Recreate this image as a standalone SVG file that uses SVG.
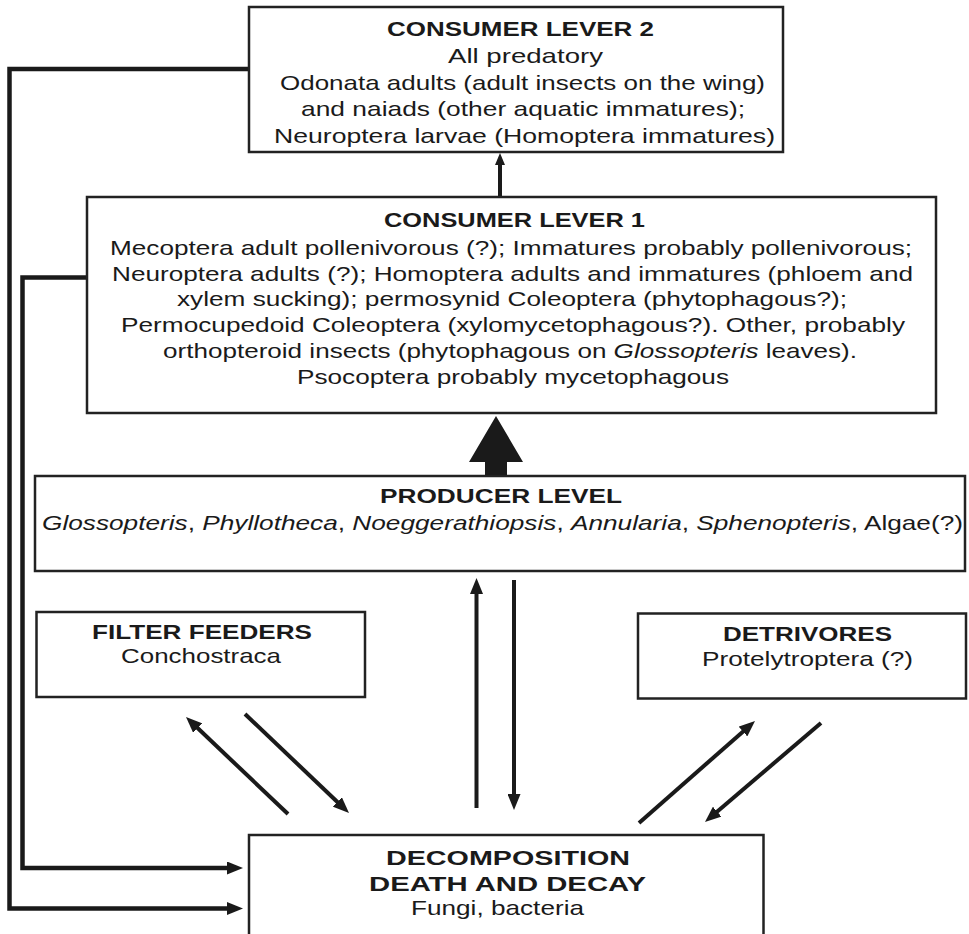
<svg xmlns="http://www.w3.org/2000/svg" width="969" height="934" viewBox="0 0 969 934">
<style>
.box{fill:#fff;stroke:#222;stroke-width:2.5}
text{font-family:"Liberation Sans",Arial,sans-serif;fill:#1a1a1a;font-size:21px}
.b{font-weight:bold;font-size:20.5px}
.i{font-style:italic}
.c{fill:none;stroke:#1a1a1a;stroke-width:4.5}
.a{fill:none;stroke:#1a1a1a;stroke-width:4}
</style>
<defs>
<marker id="ah" markerUnits="userSpaceOnUse" markerWidth="16" markerHeight="13" refX="4" refY="6.5" orient="auto">
<path d="M0,0 L16,6.5 L0,13 Z" fill="#1a1a1a"/>
</marker>
<marker id="ahs" markerUnits="userSpaceOnUse" markerWidth="12" markerHeight="10" refX="3" refY="5" orient="auto">
<path d="M0,0 L12,5 L0,10 Z" fill="#1a1a1a"/>
</marker>
</defs>
<g id="connectors">
<path class="c" d="M249,69 H9.5 V908.5 H231" marker-end="url(#ah)"/>
<path class="c" d="M88,277.5 H22.5 V868 H231" marker-end="url(#ah)"/>
<line class="a" x1="500" y1="197" x2="500" y2="162" marker-end="url(#ahs)"/>
<polygon points="496,416 523,462 507,462 507,476 485,476 485,462 469,462" fill="#1a1a1a"/>
<line class="a" x1="476.5" y1="808" x2="476.5" y2="590" marker-end="url(#ah)"/>
<line class="a" x1="514" y1="580" x2="514" y2="798" marker-end="url(#ah)"/>
<line class="a" x1="288" y1="814" x2="194.7" y2="725.3" marker-end="url(#ah)"/>
<line class="a" x1="245" y1="714" x2="340.3" y2="804.7" marker-end="url(#ah)"/>
<line class="a" x1="639" y1="823" x2="746" y2="728.9" marker-end="url(#ah)"/>
<line class="a" x1="821" y1="723" x2="714.1" y2="814.2" marker-end="url(#ah)"/>
</g>
<g id="consumer2">
<rect class="box" x="249" y="7" width="534" height="145"/>
<text class="b" x="387" y="36" textLength="267" lengthAdjust="spacingAndGlyphs">CONSUMER LEVER 2</text>
<text x="448" y="63" textLength="155" lengthAdjust="spacingAndGlyphs">All predatory</text>
<text x="280" y="89.5" textLength="485" lengthAdjust="spacingAndGlyphs">Odonata adults (adult insects on the wing)</text>
<text x="301" y="116" textLength="444" lengthAdjust="spacingAndGlyphs">and naiads (other aquatic immatures);</text>
<text x="274" y="142.5" textLength="501" lengthAdjust="spacingAndGlyphs">Neuroptera larvae (Homoptera immatures)</text>
</g>
<g id="consumer1">
<rect class="box" x="87" y="197" width="849" height="216"/>
<text class="b" x="384" y="227" textLength="261" lengthAdjust="spacingAndGlyphs">CONSUMER LEVER 1</text>
<text x="110" y="255" textLength="802" lengthAdjust="spacingAndGlyphs">Mecoptera adult pollenivorous (?); Immatures probably pollenivorous;</text>
<text x="112" y="280.7" textLength="801" lengthAdjust="spacingAndGlyphs">Neuroptera adults (?); Homoptera adults and immatures (phloem and</text>
<text x="177" y="306.4" textLength="670" lengthAdjust="spacingAndGlyphs">xylem sucking); permosynid Coleoptera (phytophagous?);</text>
<text x="121" y="332.1" textLength="784" lengthAdjust="spacingAndGlyphs">Permocupedoid Coleoptera (xylomycetophagous?). Other, probably</text>
<text x="163" y="357.8" textLength="694" lengthAdjust="spacingAndGlyphs">orthopteroid insects (phytophagous on <tspan class="i">Glossopteris</tspan> leaves).</text>
<text x="297" y="383.5" textLength="432" lengthAdjust="spacingAndGlyphs">Psocoptera probably mycetophagous</text>
</g>
<g id="producer">
<rect class="box" x="35" y="476" width="930" height="95"/>
<text class="b" x="380" y="503" textLength="242" lengthAdjust="spacingAndGlyphs">PRODUCER LEVEL</text>
<text x="42" y="530" textLength="921" lengthAdjust="spacingAndGlyphs"><tspan class="i">Glossopteris</tspan>, <tspan class="i">Phyllotheca</tspan>, <tspan class="i">Noeggerathiopsis</tspan>, <tspan class="i">Annularia</tspan>, <tspan class="i">Sphenopteris</tspan>, Algae(?)</text>
</g>
<g id="filter">
<rect class="box" x="36.5" y="612" width="328.5" height="85"/>
<text class="b" x="92" y="638.5" textLength="220" lengthAdjust="spacingAndGlyphs">FILTER FEEDERS</text>
<text x="121" y="663" textLength="160" lengthAdjust="spacingAndGlyphs">Conchostraca</text>
</g>
<g id="detrivores">
<rect class="box" x="638" y="613.5" width="328" height="85"/>
<text class="b" x="723" y="641" textLength="169" lengthAdjust="spacingAndGlyphs">DETRIVORES</text>
<text x="702" y="665.5" textLength="211" lengthAdjust="spacingAndGlyphs">Protelytroptera (?)</text>
</g>
<g id="decomposition">
<rect class="box" x="249" y="835" width="514.5" height="110"/>
<text class="b" x="386" y="865" textLength="244" lengthAdjust="spacingAndGlyphs">DECOMPOSITION</text>
<text class="b" x="369" y="890.5" textLength="277" lengthAdjust="spacingAndGlyphs">DEATH AND DECAY</text>
<text x="411" y="914.5" textLength="173" lengthAdjust="spacingAndGlyphs">Fungi, bacteria</text>
</g>
</svg>
